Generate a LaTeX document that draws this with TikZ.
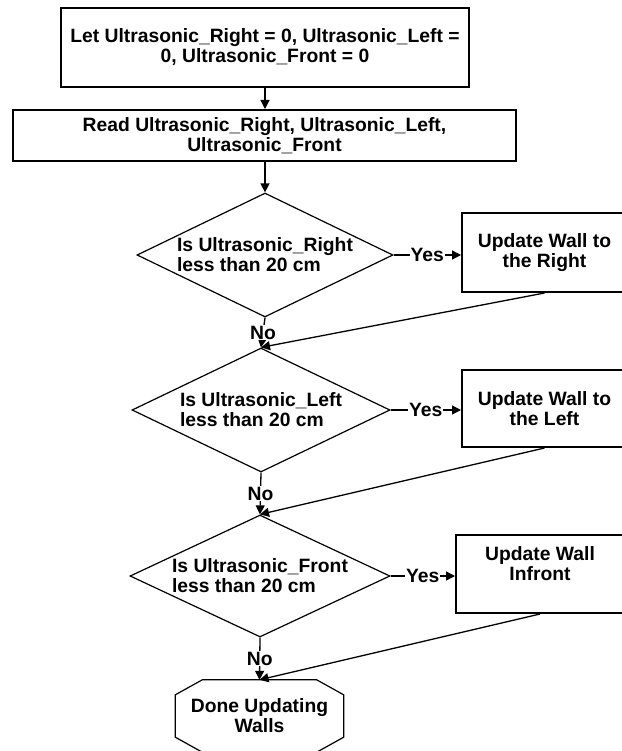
\documentclass[tikz,border=0pt]{standalone}
\usepackage{fontspec}
\setmainfont{Liberation Sans}
\usetikzlibrary{shapes.geometric,arrows.meta}
\begin{document}
\begin{tikzpicture}[x=1pt,y=-1pt,
  every node/.style={font=\bfseries\fontsize{19.3}{20}\selectfont},
  boxnode/.style={draw, line width=2pt, inner sep=0pt, align=center},
  decision/.style={draw, diamond, line width=1.2pt, aspect=2.06, inner sep=0pt, align=left, minimum width=256pt, minimum height=124pt},
  conn/.style={line width=1.3pt, -{Triangle[length=9pt,width=9pt]}},
  lbl/.style={fill=white, inner sep=1pt}]
\useasboundingbox (0,0) rectangle (621,751);

\node[boxnode, minimum width=408pt, minimum height=79pt] (init) at (265,47.5)
  {Let Ultrasonic\_Right = 0, Ultrasonic\_Left =\\0, Ultrasonic\_Front = 0};
\node[boxnode, minimum width=503pt, minimum height=51pt] (read) at (264.5,135.5)
  {Read Ultrasonic\_Right, Ultrasonic\_Left,\\Ultrasonic\_Front};

\node[decision] (d1) at (265,255) {Is Ultrasonic\_Right\\less than 20 cm};
\node[decision, minimum width=258pt] (d2) at (261,410) {Is Ultrasonic\_Left\\less than 20 cm};
\node[decision, minimum width=260pt, minimum height=122pt] (d3) at (260,576) {Is Ultrasonic\_Front\\less than 20 cm};

\node[boxnode, minimum width=165pt, minimum height=79pt] (u1) at (544.5,252.5) {Update Wall to\\the Right};
\node[boxnode, minimum width=165pt, minimum height=77pt] (u2) at (544.5,408.5) {Update Wall to\\the Left};
\node[boxnode, minimum width=168pt, minimum height=78pt] (u3) at (540,574) {Update Wall\\Infront\\\mbox{}};

\node[minimum width=168pt, minimum height=72pt, inner sep=0pt, align=center] (done) at (259.5,716) {Done Updating\\Walls};
\draw[line width=1.2pt]
  ([xshift=27pt]done.north west) -- ([xshift=-27pt]done.north east)
  -- ([yshift=-15pt]done.north east) -- ([yshift=15pt]done.south east)
  -- ([xshift=-27pt]done.south east) -- ([xshift=27pt]done.south west)
  -- ([yshift=15pt]done.south west) -- ([yshift=-15pt]done.north west) -- cycle;

\draw[conn] (init.south) -- (init.south |- read.north);
\draw[conn] (read.south -| d1.north) -- (d1.north);

\draw[conn] (d1.east) -- (d1.east -| u1.west) node[midway, lbl] {Yes};
\draw[conn] (d2.east) -- (d2.east -| u2.west) node[midway, lbl] {Yes};
\draw[conn] (d3.east) -- (d3.east -| u3.west) node[midway, lbl] {Yes};

\draw[conn] (d1.south) -- (d2.north) node[midway, lbl] {No};
\draw[conn] (d2.south) -- (d3.north) node[midway, lbl] {No};
\draw[conn] (d3.south) -- (done.north) node[midway, lbl] {No};

\draw[conn] (u1.south) -- (d2.north);
\draw[conn] (u2.south) -- (d3.north);
\draw[conn] (u3.south) -- (done.north);
\end{tikzpicture}
\end{document}
